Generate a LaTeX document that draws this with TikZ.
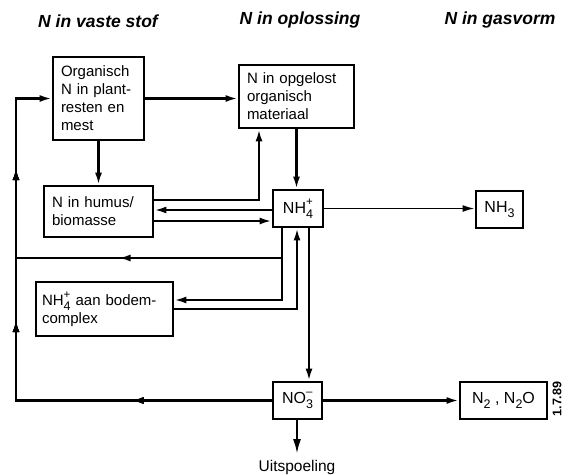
\documentclass[tikz,border=0pt]{standalone}
\usepackage{fontspec}
\setmainfont{Liberation Sans}
\usetikzlibrary{arrows.meta,decorations.markings}
\newcommand\subx[1]{\raisebox{-0.3em}{\fontsize{12.5}{12.5}\selectfont #1}}
\newcommand\supx[1]{\raisebox{0.5em}{\fontsize{11.5}{11.5}\selectfont #1}}
\begin{document}
\begin{tikzpicture}[x=1pt,y=-1pt,
  tip/.tip={Latex[length=12pt,width=7pt]},
  box/.style={draw,line width=2.8pt,inner sep=0pt,font=\fontsize{15}{18}\selectfont},
  lbox/.style={box,align=left},
  conn/.style={line width=2.2pt},
  arr/.style={conn,-tip},
  midarr/.style={postaction={decorate},decoration={markings,mark=at position #1 with {\arrow{tip}}}},
  title/.style={font=\fontsize{17.5}{20}\selectfont\bfseries\itshape},
  small/.style={font=\fontsize{16}{18}\selectfont}]
\useasboundingbox (0,0) rectangle (573,474);
% titles
\node[title] (t1) at (98,21) {N in vaste stof};
\node[title] (t2) at (300,20) {N in oplossing};
\node[title] (t3) at (500,20) {N in gasvorm};
% boxes
\node[lbox,minimum width=91pt,minimum height=83pt,text width=75pt] (org) at (98.5,98.5) {Organisch\\N in plant-\\resten en\\mest};
\node[lbox,minimum width=115pt,minimum height=63pt,text width=99pt] (opg) at (296.5,96.5) {N in opgelost\\organisch\\materiaal};
\node[lbox,minimum width=109pt,minimum height=51pt,text width=93pt] (hum) at (98.5,211.5) {N in humus/\\biomasse};
\node[lbox,minimum width=137pt,minimum height=54pt,text width=125pt] (bod) at (104.5,309) {NH\rlap{\supx{+}}\subx{4} aan bodem-\\complex};
\node[box,small,minimum width=50pt,minimum height=37pt] (nh4) at (298,208.5) {NH\rlap{\supx{+}}\subx{4}};
\node[box,small,minimum width=47pt,minimum height=37pt] (nh3) at (499.5,209.5) {NH\subx{3}};
\node[box,small,minimum width=49pt,minimum height=37pt] (no3) at (297.5,400.5) {NO\rlap{\supx{--}}\subx{3}};
\node[box,small,minimum width=87pt,minimum height=37pt] (n2) at (503.5,400.5) {N\subx{2} , N\subx{2}O};
\node[font=\fontsize{12.5}{14}\selectfont\bfseries,rotate=90] (date) at (557,399) {1.7.89};
\node[font=\fontsize{15.5}{18}\selectfont] (uit) at (297,467) {Uitspoeling};
\coordinate (uitc) at (297,454);
% lanes
\coordinate (yA) at (0,200);
\coordinate (yB) at (0,210);
\coordinate (yC) at (0,221);
\coordinate (yD) at (0,258);
\coordinate (yE) at (0,300);
\coordinate (yF) at (0,309);
\coordinate (xL) at (16,0);
\coordinate (xU) at (259,0);
\coordinate (xP) at (282,0);
\coordinate (xQ) at (297,0);
\coordinate (xR) at (309,0);
% connectors
\draw[arr] (org.east) -- (opg.west |- org.east);
\draw[arr] (org.south) -- (hum.north);
\draw[arr] (hum.east |- yA) -- (xU |- yA) -- (opg.south -| xU);
\draw[arr] (opg.south) -- (opg.south |- nh4.north);
\draw[arr] (nh4.west |- yB) -- (hum.east |- yB);
\draw[arr] (hum.east |- yC) -- (nh4.west |- yC);
\draw[-tip,line width=1.7pt] (nh4.east) -- (nh3.west |- nh4.east);
\draw[conn,midarr=193pt] (nh4.south -| xP) -- (xP |- yD) -- (xL |- yD);
\draw[arr] (nh4.south -| xP) -- (xP |- yE) -- (bod.east |- yE);
\draw[arr] (bod.east |- yF) -- (xQ |- yF) -- (nh4.south -| xQ);
\draw[arr] (nh4.south -| xR) -- (no3.north -| xR);
\draw[arr] (no3.east) -- (n2.west |- no3.east);
\draw[conn,-{Latex[length=15pt,width=8pt]}] (no3.south -| uitc) -- (uitc);
\draw[arr,midarr=140pt,midarr=336pt,midarr=488pt] (no3.west) -- (xL |- no3.west) -- (xL |- org.west) -- (org.west);
\end{tikzpicture}
\end{document}
